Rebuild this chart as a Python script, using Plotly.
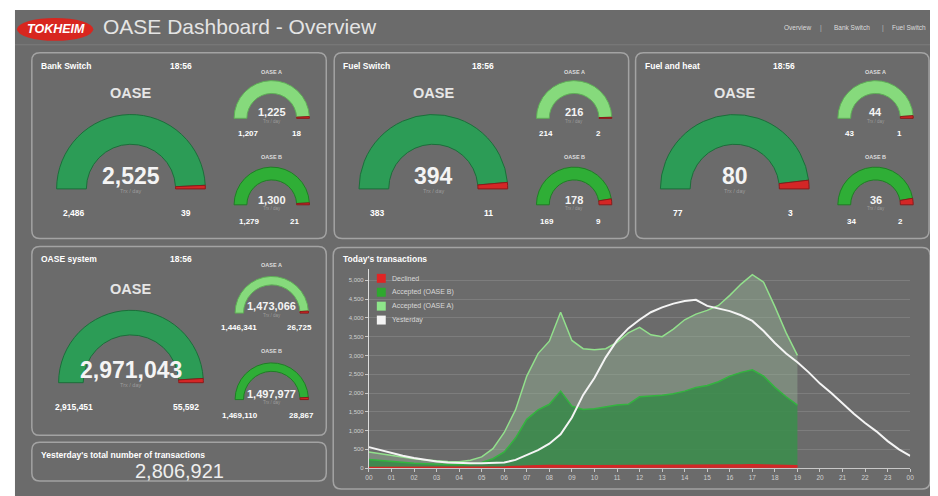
import plotly.graph_objects as go

# The page body has an 8px margin, so the figure is placed at (8, 8).
OFF = 8
W, H = 930, 488
FONT = "Liberation Sans"

# ---------------- data ----------------
tile_names = ["Bank Switch", "Fuel Switch", "Fuel and heat", "OASE system"]
tile_time = ["18:56", "18:56", "18:56", "18:56"]
a_accepted = [1207, 214, 43, 1446341]
a_declined = [18, 2, 1, 26725]
b_accepted = [1279, 169, 34, 1469110]
b_declined = [21, 9, 2, 28867]
yesterday_total = 2806921

hours_today = [0, 0.5, 1, 1.5, 2, 2.5, 3, 3.5, 4, 4.5, 5, 5.5, 6, 6.5, 7, 7.5, 8, 8.5,
               9, 9.5, 10, 10.5, 11, 11.5, 12, 12.5, 13, 13.5, 14, 14.5, 15, 15.5,
               16, 16.5, 17, 17.5, 18, 18.5, 19]
declined_today = [8, 8, 7, 6, 6, 5, 5, 5, 5, 6, 8, 12, 25, 40, 55, 60, 65, 70,
                  65, 60, 60, 60, 62, 65, 68, 66, 65, 66, 68, 70, 72, 74,
                  78, 80, 82, 80, 75, 68, 60]
oase_b_today = [222, 192, 163, 144, 124, 110, 95, 90, 90, 104, 142, 238, 405, 760,
                1245, 1490, 1635, 1980, 1585, 1500, 1520, 1580, 1618, 1635, 1832,
                1854, 1875, 1914, 1982, 2080, 2128, 2226, 2372, 2470, 2538, 2370,
                2075, 1832, 1620]
oase_a_today = [200, 180, 160, 140, 120, 105, 90, 80, 75, 100, 150, 270, 520, 750,
                1150, 1500, 1680, 2100, 1750, 1620, 1570, 1540, 1670, 1900, 1850,
                1630, 1560, 1720, 1900, 1950, 2000, 2030, 2150, 2350, 2530, 2500,
                2150, 1700, 1320]
hours_yesterday = [0, 0.5, 1, 1.5, 2, 2.5, 3, 3.5, 4, 4.5, 5, 5.5, 6, 6.5, 7, 7.5, 8,
                   8.5, 9, 9.5, 10, 10.5, 11, 11.5, 12, 12.5, 13, 13.5, 14, 14.5, 15,
                   15.5, 16, 16.5, 17, 17.5, 18, 18.5, 19, 19.5, 20, 20.5, 21, 21.5,
                   22, 22.5, 23, 23.5, 24]
yesterday_values = [560, 480, 400, 330, 270, 220, 180, 150, 135, 130, 130, 135, 150,
                    220, 340, 480, 650, 900, 1350, 1950, 2400, 2950, 3400, 3720, 3950,
                    4150, 4280, 4380, 4450, 4480, 4320, 4250, 4180, 4070, 3920, 3650,
                    3330, 3050, 2820, 2550, 2250, 2000, 1720, 1450, 1200, 980, 720,
                    500, 330]
hour_ticks = [0, 1, 2, 3, 4, 5, 6, 7, 8, 9, 10, 11, 12, 13, 14, 15, 16, 17, 18, 19,
              20, 21, 22, 23, 24]
hour_labels = ["00", "01", "02", "03", "04", "05", "06", "07", "08", "09", "10", "11",
               "12", "13", "14", "15", "16", "17", "18", "19", "20", "21", "22", "23", "00"]
y_ticks = [0, 500, 1000, 1500, 2000, 2500, 3000, 3500, 4000, 4500, 5000]
legend_names = ["Declined", "Accepted (OASE B)", "Accepted (OASE A)", "Yesterday"]
nav_items = ["Overview", "Bank Switch", "Fuel Switch"]

# ---------------- styles ----------------
BG = "#6b6b6b"
BORDER = "#a3a3a3"
RED = "#d42626"
BIG_GREEN = "#2c9c56"
BIG_EDGE = "#1c6e3a"
A_GREEN = "#86da7c"
A_EDGE = "#5fae57"
B_GREEN = "#2fae36"
B_EDGE = "#1f7f25"


def X(px):
    return (px - OFF) / W


def Y(py):
    return 1 - (py - OFF) / H


shapes = []
annotations = []


def rrect(x0, y0, x1, y1, r=8, line=BORDER, width=1.5, fill=None):
    rx, ry = r, r
    p = (f"M {X(x0+rx)},{Y(y0)} L {X(x1-rx)},{Y(y0)} Q {X(x1)},{Y(y0)} {X(x1)},{Y(y0+ry)} "
         f"L {X(x1)},{Y(y1-ry)} Q {X(x1)},{Y(y1)} {X(x1-rx)},{Y(y1)} "
         f"L {X(x0+rx)},{Y(y1)} Q {X(x0)},{Y(y1)} {X(x0)},{Y(y1-ry)} "
         f"L {X(x0)},{Y(y0+ry)} Q {X(x0)},{Y(y0)} {X(x0+rx)},{Y(y0)} Z")
    shapes.append(dict(type="path", path=p, xref="paper", yref="paper",
                       line=dict(color=line, width=width),
                       fillcolor=fill if fill else "rgba(0,0,0,0)", layer="below"))


def txt(x, y, s, size, color="#f0f0f0", bold=False, anchor="center", family=FONT):
    annotations.append(dict(x=X(x), y=Y(y), xref="paper", yref="paper",
                            text=f"<b>{s}</b>" if bold else s, showarrow=False,
                            xanchor=anchor, yanchor="middle",
                            font=dict(size=size, color=color, family=family)))


traces = []


def gauge(cx, cy, r, acc, dec, color, edge, hole):
    traces.append(go.Pie(
        values=[acc, dec, acc + dec],
        marker=dict(colors=[color, RED, "rgba(0,0,0,0)"],
                    line=dict(color=[edge, "#8a1a1a", "rgba(0,0,0,0)"], width=1)),
        hole=hole, sort=False, direction="clockwise", rotation=270,
        textinfo="none", hoverinfo="skip", showlegend=False,
        domain=dict(x=[X(cx - r), X(cx + r)], y=[Y(cy + r), Y(cy - r)])))


# background strips (white page margin top/left)
shapes.append(dict(type="rect", xref="paper", yref="paper", x0=-0.02, x1=1.02, y0=Y(10), y1=1.02,
                   fillcolor="white", line=dict(width=0), layer="below"))
shapes.append(dict(type="rect", xref="paper", yref="paper", x0=-0.02, x1=X(11), y0=-0.02, y1=1.02,
                   fillcolor="white", line=dict(width=0), layer="below"))
shapes.append(dict(type="line", xref="paper", yref="paper", x0=X(11), x1=1, y0=Y(45), y1=Y(45),
                   line=dict(color="rgba(255,255,255,0.12)", width=1), layer="below"))

# header: logo + title + nav
shapes.append(dict(type="circle", xref="paper", yref="paper", x0=X(13), x1=X(90),
                   y0=Y(41), y1=Y(18), fillcolor="#d8261f", line=dict(width=0), layer="below"))
txt(52, 29, "<i><b>TOKHEIM</b></i>", 12.5, color="white")
txt(98, 27, "OASE Dashboard - Overview", 21, color="#e4e4e4", anchor="left")
txt(800, 28, nav_items[0], 6.5, color="#dddddd")
txt(824, 28, "|", 6.5, color="#bbbbbb")
txt(855, 28, nav_items[1], 6.5, color="#dddddd")
txt(887, 28, "|", 6.5, color="#bbbbbb")
txt(913, 28, nav_items[2], 6.5, color="#dddddd")

# gauge tiles
tile_x0 = [28, 333, 637, 28]
tile_y0 = [53, 53, 53, 248]
tile_y1 = [240, 240, 240, 438]
tile_w = [297, 297, 296, 297]
big_r = [75, 75, 75, 73]
big_hole = [0.6, 0.6, 0.6, 0.66]
small_r = [38, 38, 38, 37]
small_hole = [0.66, 0.66, 0.66, 0.77]
a_left_off = [219, 214, 216, 209]
a_right_off = [267, 267, 266, 270]
b_left_off = [220, 215, 218, 210]
b_right_off = [265, 267, 267, 272]

for i in range(4):
    x0, y0 = tile_x0[i], tile_y0[i]
    rrect(x0, y0, x0 + tile_w[i], tile_y1[i])
    dy = 0 if i < 3 else 1
    txt(x0 + 7, y0 + 13, tile_names[i], 8.5, color="white", bold=True, anchor="left")
    txt(x0 + 150, y0 + 13, tile_time[i], 8.5, color="white", bold=True)
    bcx = x0 + 100
    scx = x0 + 242
    tot = a_accepted[i] + a_declined[i] + b_accepted[i] + b_declined[i]
    acc = a_accepted[i] + b_accepted[i]
    dec = a_declined[i] + b_declined[i]
    # big gauge
    gauge(bcx, y0 + 137, big_r[i], acc, dec, BIG_GREEN, BIG_EDGE, big_hole[i])
    txt(bcx, y0 + 41 + dy * 2, "<b>OASE</b>", 14.5, color="#e6e6e6")
    txt(bcx, y0 + 124, f"{tot:,}", 23, color="#f4f4f4", bold=True)
    txt(bcx, y0 + 139, "Trx / day", 5.5, color="rgba(220,220,220,0.45)")
    txt(x0 + 43, y0 + 161, f"{acc:,}", 8.5, color="white", bold=True)
    txt(x0 + 156, y0 + 161, f"{dec:,}", 8.5, color="white", bold=True)
    # OASE A
    ta = a_accepted[i] + a_declined[i]
    gauge(scx, y0 + 66 + dy, small_r[i], a_accepted[i], a_declined[i], A_GREEN, A_EDGE, small_hole[i])
    txt(scx, y0 + 19, "OASE A", 5.5, color="#dddddd", bold=True)
    txt(scx, y0 + 60, f"{ta:,}", 11, color="#f4f4f4", bold=True)
    txt(scx, y0 + 69, "Trx / day", 4.5, color="rgba(220,220,220,0.45)")
    txt(x0 + a_left_off[i], y0 + 81, f"{a_accepted[i]:,}", 8, color="white", bold=True)
    txt(x0 + a_right_off[i], y0 + 81, f"{a_declined[i]:,}", 8, color="white", bold=True)
    # OASE B
    tb = b_accepted[i] + b_declined[i]
    gauge(scx, y0 + 153 + dy, small_r[i], b_accepted[i], b_declined[i], B_GREEN, B_EDGE, small_hole[i])
    txt(scx, y0 + 105, "OASE B", 5.5, color="#dddddd", bold=True)
    txt(scx, y0 + 148, f"{tb:,}", 11, color="#f4f4f4", bold=True)
    txt(scx, y0 + 157, "Trx / day", 4.5, color="rgba(220,220,220,0.45)")
    txt(x0 + b_left_off[i], y0 + 170, f"{b_accepted[i]:,}", 8, color="white", bold=True)
    txt(x0 + b_right_off[i], y0 + 170, f"{b_declined[i]:,}", 8, color="white", bold=True)

# yesterday total tile
rrect(28, 445, 325, 484)
txt(35, 458, "Yesterday's total number of transactions", 8.5, color="white", bold=True, anchor="left")
txt(177, 474, f"{yesterday_total:,}", 20, color="#eeeeee")

# chart tile
rrect(332, 249, 934, 492)
txt(340, 261, "Today's transactions", 8.5, color="white", bold=True, anchor="left")

traces.append(go.Scatter(x=hours_today, y=declined_today, name=legend_names[0],
                         stackgroup="t", mode="lines", line=dict(color=RED, width=2),
                         fillcolor="rgba(212,38,38,0.9)", showlegend=False, hoverinfo="skip"))
traces.append(go.Scatter(x=hours_today, y=oase_b_today, name=legend_names[1],
                         stackgroup="t", mode="lines", line=dict(color="#33b43f", width=1.5),
                         fillcolor="rgba(62,140,78,0.92)", showlegend=False, hoverinfo="skip"))
traces.append(go.Scatter(x=hours_today, y=oase_a_today, name=legend_names[2],
                         stackgroup="t", mode="lines", line=dict(color="#92e08c", width=1.5),
                         fillcolor="rgba(150,180,150,0.42)", showlegend=False, hoverinfo="skip"))
traces.append(go.Scatter(x=hours_yesterday, y=yesterday_values, name=legend_names[3],
                         mode="lines", line=dict(color="#f4f4f4", width=2),
                         showlegend=False, hoverinfo="skip"))

# manual legend
leg_colors = ["#e02424", "#2ea82e", "#8ee68a", "#f4f4f4"]
for k, (nm, col) in enumerate(zip(legend_names, leg_colors)):
    yy = 280 + k * 14
    shapes.append(dict(type="rect", xref="paper", yref="paper", x0=X(376), x1=X(385),
                       y0=Y(yy + 4.5), y1=Y(yy - 4.5), fillcolor=col, line=dict(width=0)))
    txt(389, yy, nm, 7, color="#d8d8d8", anchor="left")

y0p = Y(471)
ytop = Y(471 - 5300 * 189 / 5000)

fig = go.Figure(traces)
fig.update_layout(
    width=W, height=H, margin=dict(l=0, r=0, t=0, b=0),
    paper_bgcolor=BG, plot_bgcolor="rgba(0,0,0,0)",
    shapes=shapes, annotations=annotations, showlegend=False,
    font=dict(family=FONT, color="#dddddd"),
    xaxis=dict(domain=[X(368), X(914)], range=[0, 24], tickvals=hour_ticks,
               ticktext=hour_labels, showgrid=False, zeroline=False, showline=True,
               linecolor="#c8c8c8", linewidth=1, ticks="outside", ticklen=3,
               tickcolor="#c8c8c8", tickfont=dict(size=6.5, color="#d0d0d0"),
               fixedrange=True),
    yaxis=dict(domain=[y0p, ytop], range=[0, 5300], tickvals=y_ticks, tickformat=",",
               showgrid=True, gridcolor="rgba(255,255,255,0.12)", gridwidth=1,
               zeroline=False, showline=True, linecolor="#dddddd", linewidth=1,
               ticks="outside", ticklen=3, tickcolor="#c8c8c8",
               tickfont=dict(size=6, color="#d0d0d0"), fixedrange=True),
)
fig.write_html("out.html")
